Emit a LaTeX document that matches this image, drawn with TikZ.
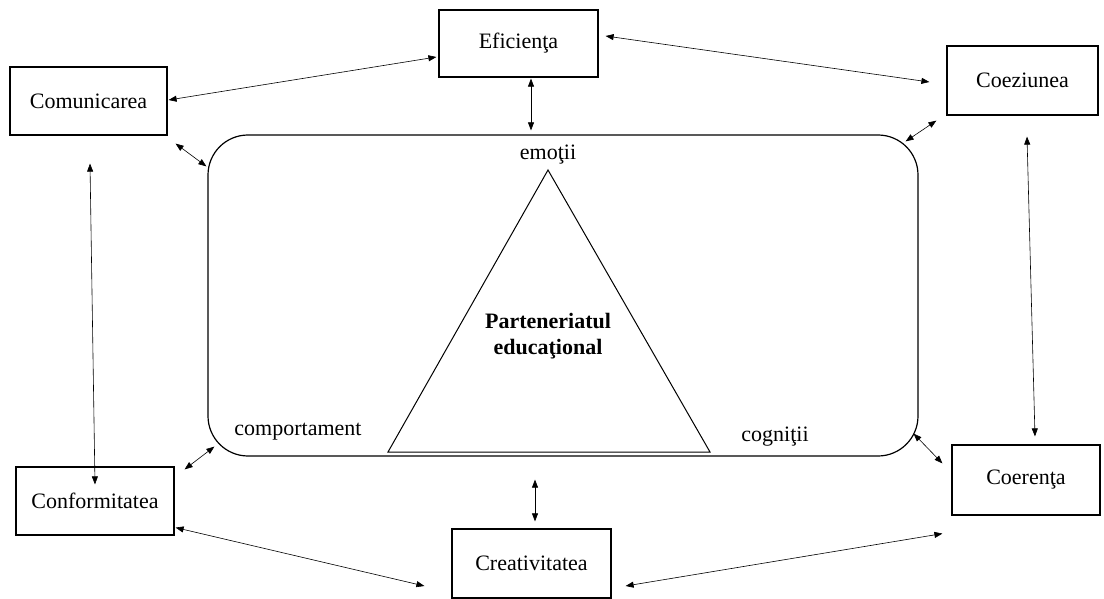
\documentclass[tikz,border=0pt]{standalone}
\usepackage{fontspec}
\setmainfont{Liberation Serif}
\usetikzlibrary{arrows.meta,calc}
\tikzset{
  box/.style={draw,line width=1.2pt,inner sep=0pt,font=\fontsize{22}{26}\selectfont},
  dbl/.style={line width=0.6pt,{Triangle[length=8pt,width=6pt]}-{Triangle[length=8pt,width=6pt]}},
  lbl/.style={font=\fontsize{22}{26}\selectfont,inner sep=0pt}
}
\begin{document}
\begin{tikzpicture}[x=1pt,y=-1pt]
\useasboundingbox (0,0) rectangle (1104,599);
% boxes
\node[box,minimum width=159pt,minimum height=67pt] (efi) at (518.5,43.5) {Eficienţa};
\node[box,minimum width=157pt,minimum height=68pt] (com) at (88.5,101) {Comunicarea};
\node[box,minimum width=151pt,minimum height=69pt] (coe) at (1022.5,80.5) {Coeziunea};
\node[box,minimum width=158pt,minimum height=68pt] (conf) at (95,501) {Conformitatea};
\node[box,minimum width=148pt,minimum height=70pt] (coer) at (1026,480) {Coerenţa};
\node[box,minimum width=159pt,minimum height=69pt] (cre) at (531.5,563.5) {Creativitatea};
% central rounded rectangle
\node[draw,line width=1.2pt,rounded corners=40pt,minimum width=710pt,minimum height=321pt,inner sep=0pt] (rect) at (563,295.5) {};
% triangle
\coordinate (ta) at (548,170);
\coordinate (tl) at (388,452);
\coordinate (tr) at (710,452);
\draw[line width=1pt] (ta) -- (tl) -- (tr) -- cycle;
\node[lbl] (emo) at (548,155) {emoţii};
\node[lbl] (comp) at (298,432) {comportament};
\node[lbl] (cog) at (775,437) {cogniţii};
\node[font=\fontsize{22}{26}\selectfont\bfseries,align=center,inner sep=0pt] (pe) at (548,336) {Parteneriatul\\educaţional};
% connectors
\draw[dbl] ($(com.east)+(1,-1)$) -- ($(efi.west)+(-2,13.5)$);
\draw[dbl] ($(efi.east)+(7,-7.5)$) -- ($(coe.west)+(-17,1.5)$);
\draw[dbl] ($(efi.south)+(12.5,1)$) -- ($(rect.north)+(-32,-4)$);
\draw[dbl] ($(com.south east)+(8,8)$) -- ($(rect.north west)+(-1,32)$);
\draw[dbl] ($(coe.south west)+(-10,5)$) -- ($(rect.north east)+(-13,7)$);
\draw[dbl] ($(com.south)+(1.5,28)$) -- ($(conf.north)+(0,18)$);
\draw[dbl] ($(coe.south)+(4.5,21)$) -- ($(coer.north)+(9,-8)$);
\draw[dbl] ($(conf.north east)+(10,3)$) -- ($(rect.south west)+(7,-10)$);
\draw[dbl] ($(rect.south east)+(-5,-23)$) -- ($(coer.north west)+(-9,19)$);
\draw[dbl] ($(rect.south)+(-28,23)$) -- ($(cre.north)+(3.5,-7)$);
\draw[dbl] ($(conf.south east)+(1,-8)$) -- ($(cre.west)+(-27,22.5)$);
\draw[dbl] ($(cre.east)+(14,22.5)$) -- ($(coer.south west)+(-9,18)$);
\end{tikzpicture}
\end{document}
